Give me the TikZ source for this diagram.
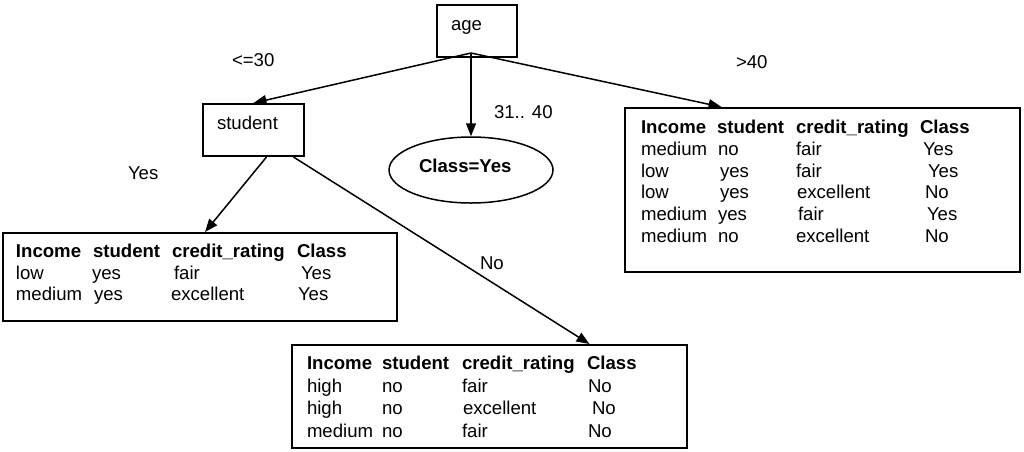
\documentclass[tikz,border=0pt]{standalone}
\usepackage{fontspec}
\setmainfont{Liberation Sans}
\usetikzlibrary{arrows.meta,shapes.geometric}
\begin{document}
\begin{tikzpicture}[x=1pt,y=-1pt,
  every node/.style={font=\fontsize{18.6}{22}\selectfont},
  box/.style={draw,line width=2pt,rectangle,inner sep=0pt},
  txt/.style={anchor=base west,inner sep=0pt,outer sep=0pt},
  hdr/.style={txt,font=\fontsize{18.6}{22}\selectfont\bfseries},
  conn/.style={line width=1.5pt,-{Triangle[length=13pt,width=10pt]}}]
\useasboundingbox (0,0) rectangle (1024,451);

% boxes
\node[box,minimum width=80pt,minimum height=52pt] (age) at (477,31) {};
\node[box,minimum width=101pt,minimum height=52pt] (student) at (253.5,130) {};
\node[box,minimum width=394pt,minimum height=88pt] (ltab) at (200,277) {};
\node[box,minimum width=395pt,minimum height=164pt] (rtab) at (822.5,190) {};
\node[box,minimum width=395pt,minimum height=103pt] (btab) at (489.5,396.5) {};
\node[draw,line width=1.5pt,ellipse,minimum width=164pt,minimum height=66pt,inner sep=0pt] (ell) at (471,170) {};

% box texts
\node[txt] (agelbl) at (451,30) {age};
\node[txt] (studlbl) at (217,129) {student};
\node[hdr] (clslbl) at (419,172) {Class=Yes};

% edge labels
\node[txt] (l30) at (232,66) {<=30};
\node[txt] (l3140) at (494,118) {31.. 40};
\node[txt] (l40) at (736,68) {>40};
\node[txt] (lyes) at (128,179) {Yes};
\node[txt] (lno) at (480,269) {No};

% connectors
\coordinate (root) at (471,53);
\draw[conn] (root) -- (student.north);
\draw[conn] (root) -- (ell.north);
\draw[conn] (root) -- ([xshift=-101pt]rtab.north);
\draw[conn] ([xshift=13pt]student.south) -- ([xshift=5pt]ltab.north);
\draw[conn] ([xshift=40pt]student.south) -- ([xshift=100pt]btab.north);

% left table
\node[hdr] (a1) at (16,257) {Income};
\node[hdr] (a2) at (93,257) {student};
\node[hdr] (a3) at (172,257) {credit\_rating};
\node[hdr] (a4) at (297,257) {Class};
\node[txt] (a5) at (16,279) {low};
\node[txt] (a6) at (92,279) {yes};
\node[txt] (a7) at (174,279) {fair};
\node[txt] (a8) at (301,279) {Yes};
\node[txt] (a9) at (16,300.5) {medium};
\node[txt] (a10) at (94,300.5) {yes};
\node[txt] (a11) at (171,300.5) {excellent};
\node[txt] (a12) at (298,300.5) {Yes};

% right table
\node[hdr] (b1) at (641,133) {Income};
\node[hdr] (b2) at (717,133) {student};
\node[hdr] (b3) at (796,133) {credit\_rating};
\node[hdr] (b4) at (920,133) {Class};
\node[txt] (b5) at (641,155) {medium};
\node[txt] (b6) at (718,155) {no};
\node[txt] (b7) at (796,155) {fair};
\node[txt] (b8) at (923,155) {Yes};
\node[txt] (b9) at (641,177) {low};
\node[txt] (b10) at (720,177) {yes};
\node[txt] (b11) at (796,177) {fair};
\node[txt] (b12) at (928,177) {Yes};
\node[txt] (b13) at (641,198) {low};
\node[txt] (b14) at (720,198) {yes};
\node[txt] (b15) at (797,198) {excellent};
\node[txt] (b16) at (925,198) {No};
\node[txt] (b17) at (641,220) {medium};
\node[txt] (b18) at (718,220) {yes};
\node[txt] (b19) at (798,220) {fair};
\node[txt] (b20) at (927,220) {Yes};
\node[txt] (b21) at (641,242) {medium};
\node[txt] (b22) at (718,242) {no};
\node[txt] (b23) at (796,242) {excellent};
\node[txt] (b24) at (925,242) {No};

% bottom table
\node[hdr] (c1) at (307,369) {Income};
\node[hdr] (c2) at (382,369) {student};
\node[hdr] (c3) at (462,369) {credit\_rating};
\node[hdr] (c4) at (587,369) {Class};
\node[txt] (c5) at (307,392) {high};
\node[txt] (c6) at (382,392) {no};
\node[txt] (c7) at (462,392) {fair};
\node[txt] (c8) at (588,392) {No};
\node[txt] (c9) at (307,414.5) {high};
\node[txt] (c10) at (382,414.5) {no};
\node[txt] (c11) at (463,414.5) {excellent};
\node[txt] (c12) at (592,414.5) {No};
\node[txt] (c13) at (307,437) {medium};
\node[txt] (c14) at (382,437) {no};
\node[txt] (c15) at (462,437) {fair};
\node[txt] (c16) at (588,437) {No};
\end{tikzpicture}
\end{document}
